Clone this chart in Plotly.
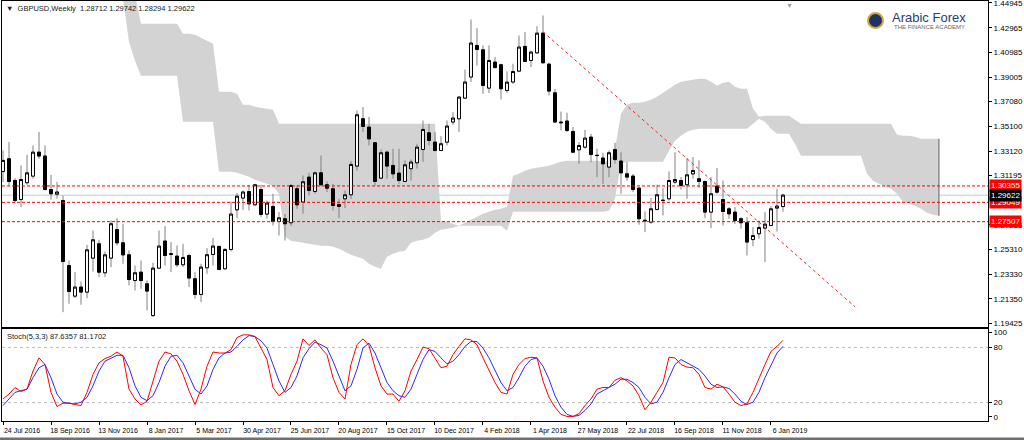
import plotly.graph_objects as go
import pandas as pd

# ---------------- data ----------------
start_week = "2016-07-24"
title_text = "GBPUSD,Weekly  1.28712 1.29742 1.28294 1.29622"

opens = [1.3151, 1.3252, 1.3079, 1.2927, 1.3061, 1.3114, 1.3305, 1.3274, 1.3007, 1.2970,
         1.2919, 1.2401, 1.2157, 1.2229, 1.2189, 1.2460, 1.2574, 1.2343, 1.2460, 1.2688,
         1.2582, 1.2486, 1.2281, 1.2348, 1.2255, 1.2002, 1.2380, 1.2596, 1.2495, 1.2476,
         1.2407, 1.2481, 1.2295, 1.2170, 1.2383, 1.2489, 1.2553, 1.2375, 1.2529, 1.2845,
         1.2939, 1.2991, 1.2885, 1.3007, 1.2811, 1.2872, 1.2752, 1.2774, 1.2742, 1.3013,
         1.2907, 1.3106, 1.2991, 1.3140, 1.3045, 1.3013, 1.2872, 1.2933, 1.2965, 1.3194,
         1.3571, 1.3505, 1.3380, 1.3098, 1.3305, 1.3199, 1.3138, 1.3071, 1.3173, 1.3220,
         1.3326, 1.3459, 1.3385, 1.3318, 1.3385, 1.3545, 1.3571, 1.3736, 1.3904, 1.4156,
         1.4121, 1.3816, 1.4023, 1.4002, 1.3797, 1.3864, 1.3951, 1.4148, 1.4036, 1.4097,
         1.4254, 1.4007, 1.3778, 1.3545, 1.3553, 1.3470, 1.3324, 1.3345, 1.3425, 1.3280,
         1.3258, 1.3186, 1.3326, 1.3234, 1.3132, 1.3114, 1.3018, 1.2762, 1.2747, 1.2848,
         1.2919, 1.2933, 1.3066, 1.3079, 1.3045, 1.3132, 1.3093, 1.3071, 1.2827, 1.3034,
         1.2927, 1.2853, 1.2827, 1.2774, 1.2742, 1.2608, 1.2654, 1.2699, 1.2720, 1.2859,
         1.28712]
highs = [1.3318, 1.3385, 1.3098, 1.3199, 1.3284, 1.3358, 1.3465, 1.3358, 1.3124, 1.3066,
         1.2959, 1.2441, 1.2348, 1.2273, 1.2566, 1.2680, 1.2606, 1.2513, 1.2760, 1.2779,
         1.2734, 1.2521, 1.2401, 1.2441, 1.2282, 1.2423, 1.2680, 1.2715, 1.2588, 1.2561,
         1.2574, 1.2495, 1.2348, 1.2415, 1.2540, 1.2620, 1.2561, 1.2540, 1.2912, 1.2981,
         1.3000, 1.3045, 1.3053, 1.3045, 1.2919, 1.2973, 1.2827, 1.2813, 1.3053, 1.3039,
         1.3119, 1.3140, 1.3151, 1.3278, 1.3071, 1.3053, 1.2933, 1.3000, 1.3234, 1.3637,
         1.3664, 1.3585, 1.3385, 1.3326, 1.3318, 1.3332, 1.3332, 1.3239, 1.3247, 1.3372,
         1.3557, 1.3531, 1.3465, 1.3433, 1.3557, 1.3624, 1.3752, 1.3964, 1.4363, 1.4294,
         1.4156, 1.4156, 1.4063, 1.4010, 1.3948, 1.4010, 1.4235, 1.4262, 1.4116, 1.4310,
         1.4395, 1.4018, 1.3810, 1.3629, 1.3619, 1.3505, 1.3385, 1.3483, 1.3451, 1.3332,
         1.3300, 1.3318, 1.3380, 1.3305, 1.3226, 1.3132, 1.3026, 1.2832, 1.2939, 1.3045,
         1.3018, 1.3151, 1.3305, 1.3106, 1.3258, 1.3266, 1.3239, 1.3079, 1.3106, 1.3178,
         1.3079, 1.2867, 1.2867, 1.2787, 1.2787, 1.2707, 1.2760, 1.2827, 1.2875, 1.3013,
         1.29742]
lows = [1.3066, 1.3034, 1.2907, 1.2867, 1.3045, 1.3093, 1.3252, 1.2999, 1.2927, 1.2933,
        1.2029, 1.2096, 1.2141, 1.2088, 1.2141, 1.2353, 1.2309, 1.2309, 1.2388, 1.2561,
        1.2415, 1.2242, 1.2202, 1.2215, 1.2042, 1.1990, 1.2375, 1.2401, 1.2348, 1.2388,
        1.2388, 1.2229, 1.2136, 1.2109, 1.2335, 1.2401, 1.2367, 1.2369, 1.2513, 1.2779,
        1.2845, 1.2840, 1.2880, 1.2787, 1.2774, 1.2720, 1.2640, 1.2600, 1.2715, 1.2853,
        1.2813, 1.2959, 1.2973, 1.3034, 1.2987, 1.2840, 1.2779, 1.2859, 1.2933, 1.3159,
        1.3465, 1.3358, 1.3039, 1.3093, 1.3093, 1.3093, 1.3053, 1.3066, 1.3079, 1.3173,
        1.3226, 1.3358, 1.3310, 1.3318, 1.3358, 1.3523, 1.3465, 1.3731, 1.3864, 1.3996,
        1.3770, 1.3776, 1.3970, 1.3725, 1.3776, 1.3850, 1.3943, 1.4023, 1.3983, 1.4089,
        1.4010, 1.3757, 1.3539, 1.3478, 1.3465, 1.3300, 1.3212, 1.3332, 1.3226, 1.3106,
        1.3053, 1.3106, 1.3212, 1.2973, 1.3079, 1.2987, 1.2726, 1.2667, 1.2734, 1.2840,
        1.2800, 1.2919, 1.3053, 1.3007, 1.2933, 1.3093, 1.3018, 1.2779, 1.2699, 1.2973,
        1.2720, 1.2774, 1.2734, 1.2694, 1.2481, 1.2556, 1.2614, 1.2428, 1.2715, 1.2672,
        1.28294]
closes = [1.3239, 1.3071, 1.2919, 1.3087, 1.3140, 1.3305, 1.3274, 1.3007, 1.2973, 1.2987,
          1.2433, 1.2194, 1.2229, 1.2189, 1.2526, 1.2606, 1.2348, 1.2486, 1.2734, 1.2582,
          1.2486, 1.2289, 1.2343, 1.2281, 1.2197, 1.2380, 1.2556, 1.2481, 1.2490, 1.2407,
          1.2465, 1.2301, 1.2170, 1.2388, 1.2487, 1.2556, 1.2369, 1.2529, 1.2811, 1.2954,
          1.2987, 1.2893, 1.3045, 1.2808, 1.2899, 1.2752, 1.2781, 1.2734, 1.3039, 1.2885,
          1.3069, 1.3000, 1.3140, 1.3045, 1.3018, 1.2880, 1.2888, 1.2965, 1.3207, 1.3603,
          1.3510, 1.3411, 1.3071, 1.3300, 1.3194, 1.3132, 1.3079, 1.3204, 1.3226, 1.3345,
          1.3486, 1.3398, 1.3318, 1.3372, 1.3513, 1.3577, 1.3744, 1.3864, 1.4175, 1.4124,
          1.3837, 1.4036, 1.3980, 1.3811, 1.3863, 1.3948, 1.4143, 1.4028, 1.4103, 1.4254,
          1.4018, 1.3792, 1.3545, 1.3540, 1.3478, 1.3305, 1.3358, 1.3417, 1.3286, 1.3278,
          1.3212, 1.3300, 1.3246, 1.3140, 1.3106, 1.3007, 1.2774, 1.2758, 1.2853, 1.2965,
          1.2921, 1.3079, 1.3087, 1.3039, 1.3124, 1.3159, 1.3071, 1.2827, 1.2973, 1.2986,
          1.2832, 1.2813, 1.2760, 1.2742, 1.2588, 1.2640, 1.2704, 1.2731, 1.2853, 1.2875,
          1.29622]

# Ichimoku cloud boundaries (first value is bar 20, last is 26 weeks past the last bar)
cloud_offset_weeks = 20
cloud_top = [1.4560, 1.4560, 1.4560, 1.4329, 1.4329, 1.4329, 1.4329, 1.4329, 1.4329, 1.4329,
             1.4249, 1.4249, 1.4241, 1.4217, 1.4193, 1.4169, 1.3786, 1.3786, 1.3786, 1.3770,
             1.3683, 1.3683, 1.3667, 1.3659, 1.3651, 1.3643, 1.3531, 1.3531, 1.3531, 1.3531,
             1.3531, 1.3531, 1.3531, 1.3531, 1.3531, 1.3531, 1.3531, 1.3531, 1.3531, 1.3531,
             1.3531, 1.3531, 1.3531, 1.3531, 1.3531, 1.3531, 1.3531, 1.3531, 1.3531, 1.3531,
             1.3531, 1.3531, 1.3531, 1.2758, 1.2750, 1.2734, 1.2718, 1.2742, 1.2766, 1.2789,
             1.2813, 1.2829, 1.2845, 1.2853, 1.2869, 1.3116, 1.3132, 1.3156, 1.3172, 1.3180,
             1.3188, 1.3196, 1.3212, 1.3228, 1.3236, 1.3236, 1.3236, 1.3236, 1.3236, 1.3236,
             1.3228, 1.3228, 1.3332, 1.3611, 1.3683, 1.3699, 1.3699, 1.3707, 1.3723, 1.3746,
             1.3778, 1.3810, 1.3842, 1.3866, 1.3874, 1.3882, 1.3890, 1.3890, 1.3866, 1.3834,
             1.3858, 1.3866, 1.3826, 1.3810, 1.3810, 1.3651, 1.3587, 1.3595, 1.3595, 1.3595,
             1.3595, 1.3595, 1.3563, 1.3531, 1.3531, 1.3531, 1.3531, 1.3531, 1.3531, 1.3531,
             1.3531, 1.3531, 1.3531, 1.3531, 1.3531, 1.3531, 1.3531, 1.3531, 1.3531, 1.3443,
             1.3435, 1.3435, 1.3427, 1.3412, 1.3412, 1.3412, 1.3412]
cloud_bottom = [1.4528, 1.4185, 1.4034, 1.3914, 1.3914, 1.3914, 1.3914, 1.3914, 1.3914, 1.3914,
                1.3547, 1.3547, 1.3547, 1.3547, 1.3547, 1.3547, 1.3148, 1.3148, 1.3148, 1.3140,
                1.3124, 1.3108, 1.3085, 1.3069, 1.3053, 1.3037, 1.2973, 1.2630, 1.2598, 1.2590,
                1.2582, 1.2574, 1.2566, 1.2558, 1.2558, 1.2550, 1.2534, 1.2510, 1.2486, 1.2471,
                1.2455, 1.2415, 1.2391, 1.2375, 1.2471, 1.2494, 1.2510, 1.2518, 1.2582, 1.2598,
                1.2606, 1.2622, 1.2662, 1.2686, 1.2694, 1.2702, 1.2718, 1.2718, 1.2718, 1.2718,
                1.2718, 1.2718, 1.2718, 1.2718, 1.2678, 1.2829, 1.2829, 1.2829, 1.2829, 1.2829,
                1.2829, 1.2829, 1.2829, 1.2829, 1.2829, 1.2829, 1.2829, 1.2829, 1.2829, 1.2829,
                1.2829, 1.2837, 1.2933, 1.3212, 1.3228, 1.3228, 1.3228, 1.3228, 1.3228, 1.3228,
                1.3228, 1.3316, 1.3396, 1.3435, 1.3467, 1.3483, 1.3491, 1.3491, 1.3491, 1.3491,
                1.3491, 1.3491, 1.3491, 1.3491, 1.3491, 1.3531, 1.3571, 1.3547, 1.3491, 1.3451,
                1.3451, 1.3451, 1.3372, 1.3276, 1.3276, 1.3276, 1.3276, 1.3276, 1.3276, 1.3276,
                1.3276, 1.3276, 1.3276, 1.3276, 1.3132, 1.3077, 1.3053, 1.3029, 1.3013, 1.2973,
                1.2909, 1.2893, 1.2877, 1.2853, 1.2821, 1.2806, 1.2798]

stoch_main = [23.9, 29.3, 36.4, 32.1, 34.6, 54.3, 68.6, 61.4, 31.1, 15.7,
              19.3, 19.3, 17.9, 16.8, 31.1, 50.7, 63.2, 67.9, 70.4, 75.0,
              70.4, 34.6, 23.9, 17.5, 21.4, 43.6, 65.0, 75.0, 72.9, 65.0,
              50.7, 32.9, 17.9, 34.6, 59.6, 75.0, 73.9, 73.9, 77.5, 90.7,
              93.6, 93.6, 91.8, 79.3, 66.8, 36.4, 27.5, 32.9, 50.7, 65.0,
              89.3, 82.1, 88.2, 79.3, 72.1, 47.1, 31.1, 23.9, 61.4, 82.9,
              89.3, 82.1, 57.9, 38.2, 29.3, 29.3, 21.4, 32.9, 54.3, 66.8,
              80.4, 78.6, 68.6, 57.9, 59.6, 72.1, 81.1, 89.3, 88.2, 82.9,
              68.6, 54.3, 41.8, 31.1, 29.3, 50.7, 61.4, 67.9, 69.3, 68.6,
              43.6, 25.7, 15.0, 7.2, 5.0, 5.0, 7.9, 16.8, 23.9, 34.6,
              36.4, 36.4, 44.3, 47.1, 43.6, 38.2, 27.5, 12.2, 20.4, 31.1,
              41.8, 69.3, 68.6, 61.4, 58.6, 57.9, 50.7, 36.4, 34.6, 40.0,
              37.1, 29.3, 20.4, 16.8, 18.6, 31.1, 47.1, 61.4, 75.7, 81.1,
              87.6357]
stoch_signal = [16.8, 23.9, 31.1, 32.9, 34.6, 47.1, 57.9, 61.4, 47.1, 29.3,
                20.4, 19.3, 18.6, 20.4, 25.7, 38.2, 54.3, 65.0, 68.6, 71.4,
                71.4, 57.9, 38.2, 25.7, 22.1, 27.5, 41.8, 59.6, 70.4, 71.4,
                63.2, 48.9, 34.6, 29.3, 38.2, 56.1, 68.6, 73.9, 75.0, 81.1,
                88.2, 92.8, 91.8, 87.1, 79.3, 61.4, 43.6, 31.1, 36.4, 48.9,
                68.6, 78.6, 85.7, 82.9, 79.3, 65.0, 48.9, 32.9, 38.2, 56.1,
                79.3, 84.6, 73.9, 57.9, 41.8, 32.9, 27.5, 25.7, 34.6, 50.7,
                66.8, 77.5, 75.7, 68.6, 62.1, 65.0, 72.1, 81.1, 86.4, 86.4,
                79.3, 68.6, 54.3, 41.8, 32.9, 36.4, 47.1, 59.6, 66.8, 68.6,
                59.6, 45.4, 27.5, 15.0, 7.2, 5.0, 6.1, 11.4, 18.6, 29.3,
                32.9, 36.4, 40.0, 45.4, 45.4, 41.8, 36.4, 25.7, 18.6, 20.4,
                31.1, 47.1, 61.4, 66.8, 63.2, 59.6, 56.1, 48.9, 40.0, 36.4,
                37.1, 35.4, 29.3, 21.4, 17.9, 20.4, 31.1, 47.1, 61.4, 73.9,
                81.1702]
stoch_label = "Stoch(5,3,3) 87.6357 81.1702"

level_lines = [1.30355, 1.29049, 1.27507]
trend_x = ["2018-04-15", "2019-04-14"]
trend_y = [1.4265, 1.2072]

price_ticks = [1.44945, 1.42965, 1.40985, 1.39005, 1.37080, 1.35100, 1.33120,
               1.31195, 1.27255, 1.25310, 1.23330, 1.21350, 1.19425]
date_tick_labels = ["24 Jul 2016", "18 Sep 2016", "13 Nov 2016", "8 Jan 2017", "5 Mar 2017",
                    "30 Apr 2017", "25 Jun 2017", "20 Aug 2017", "15 Oct 2017", "10 Dec 2017",
                    "4 Feb 2018", "1 Apr 2018", "27 May 2018", "22 Jul 2018", "16 Sep 2018",
                    "11 Nov 2018", "6 Jan 2019"]
stoch_tick_labels = ["100", "80", "20", "0"]
stoch_tick_pos = [96.5, 80, 20, 4.5]

# ---------------- derived ----------------
start = pd.Timestamp(start_week)
weeks = pd.date_range(start, periods=len(opens), freq="7D")
cloud_dates = pd.date_range(start + pd.Timedelta(weeks=cloud_offset_weeks),
                            periods=len(cloud_top), freq="7D")
body_hi = [max(o, c) for o, c in zip(opens, closes)]
body_lo = [min(o, c) for o, c in zip(opens, closes)]
date_tick_vals = [pd.to_datetime(s, format="%d %b %Y") for s in date_tick_labels]

FONT = "Liberation Sans, Arial, sans-serif"
W, H = 1024, 440
ML, MR, MT, MB = 2, 36, 1, 19
PW, PH = W - ML - MR, H - MT - MB


def px_x(px):
    return (px - ML) / PW


def px_y(py):
    return (H - MB - py) / PH


main_dom = [px_y(327), 1.0]
stoch_dom = [0.0, px_y(329)]
y_main_range = [1.19107, 1.45104]
x_range = [start - pd.Timedelta(days=7 / 6), start + pd.Timedelta(days=7 * 164.17)]

# cloud polygon in data coordinates (drawn below the candles)
cd = [d.strftime("%Y-%m-%d") for d in cloud_dates]
pts = [(d, v) for d, v in zip(cd, cloud_bottom)] + [(d, v) for d, v in zip(cd[::-1], cloud_top[::-1])]
cloud_path = "M " + " L ".join(f"{d},{v}" for d, v in pts) + " Z"

fig = go.Figure()

fig.add_trace(go.Scatter(x=[cloud_dates[-1], cloud_dates[-1]],
                         y=[cloud_top[-1], cloud_bottom[-1]], mode="lines",
                         line=dict(width=1, color="#606060"), hoverinfo="skip",
                         showlegend=False, xaxis="x", yaxis="y"))

# wicks
fig.add_trace(go.Candlestick(x=weeks, open=opens, high=highs, low=lows, close=closes,
                             increasing=dict(line=dict(color="#808080", width=1), fillcolor="#808080"),
                             decreasing=dict(line=dict(color="#808080", width=1), fillcolor="#808080"),
                             hoverinfo="skip", showlegend=False, xaxis="x", yaxis="y"))
# bodies
fig.add_trace(go.Candlestick(x=weeks, open=opens, high=body_hi, low=body_lo, close=closes,
                             increasing=dict(line=dict(color="#000000", width=1), fillcolor="#ffffff"),
                             decreasing=dict(line=dict(color="#000000", width=1), fillcolor="#000000"),
                             hoverinfo="skip", showlegend=False, xaxis="x", yaxis="y"))

# trend line
fig.add_trace(go.Scatter(x=trend_x, y=trend_y, mode="lines",
                         line=dict(width=1, color="#ff2020", dash="dot"),
                         hoverinfo="skip", showlegend=False, xaxis="x", yaxis="y"))

# stochastic
fig.add_trace(go.Scatter(x=weeks, y=stoch_signal, mode="lines",
                         line=dict(width=1, color="#2a2aff"), hoverinfo="skip",
                         showlegend=False, xaxis="x2", yaxis="y2"))
fig.add_trace(go.Scatter(x=weeks, y=stoch_main, mode="lines",
                         line=dict(width=1, color="#ff0000"), hoverinfo="skip",
                         showlegend=False, xaxis="x2", yaxis="y2"))

shapes = [dict(type="path", xref="x", yref="y", path=cloud_path, fillcolor="#d3d3d3",
               line=dict(width=0), layer="below")]
for lv in [80, 20]:
    shapes.append(dict(type="line", xref="x2 domain", yref="y2", x0=0, x1=1, y0=lv, y1=lv,
                       line=dict(color="#b8b8b8", width=1, dash="3px,3px"), layer="below"))
shapes.append(dict(type="line", xref="x domain", yref="y", x0=0, x1=1,
                   y0=closes[-1], y1=closes[-1], line=dict(color="#c8c8c8", width=1), layer="below"))
for lv in level_lines:
    shapes.append(dict(type="line", xref="x domain", yref="y", x0=0, x1=1, y0=lv, y1=lv,
                       line=dict(color="#ff0000", width=1, dash="3px,2px")))
# logo circle
shapes.append(dict(type="circle", xref="paper", yref="paper",
                   x0=px_x(868), x1=px_x(883), y0=px_y(28), y1=px_y(13),
                   fillcolor="#1e3263", line=dict(color="#d0a640", width=2)))
# bottom frame strip
shapes.append(dict(type="rect", xref="paper", yref="paper", x0=px_x(0), x1=px_x(1024),
                   y0=px_y(440), y1=px_y(437.5), fillcolor="#707070", line=dict(width=0)))

annotations = [
    dict(text="▼  " + title_text, xref="paper", yref="paper", x=px_x(4), y=px_y(2),
         xanchor="left", yanchor="top", showarrow=False,
         font=dict(family=FONT, size=7.5, color="#202020")),
    dict(text=stoch_label, xref="paper", yref="paper", x=px_x(5), y=px_y(330),
         xanchor="left", yanchor="top", showarrow=False,
         font=dict(family=FONT, size=7.5, color="#202020")),
    dict(text="Arabic Forex", xref="paper", yref="paper", x=px_x(890), y=px_y(18),
         xanchor="left", yanchor="middle", showarrow=False,
         font=dict(family=FONT, size=13, color="#2a3c6c")),
    dict(text="THE FINANCE ACADEMY", xref="paper", yref="paper", x=px_x(892), y=px_y(26.5),
         xanchor="left", yanchor="middle", showarrow=False,
         font=dict(family=FONT, size=6, color="#666666")),
    dict(text="▼", xref="paper", yref="paper", x=px_x(789), y=px_y(0),
         xanchor="center", yanchor="top", showarrow=False,
         font=dict(family=FONT, size=7, color="#a0a0a0")),
]
for lv in level_lines:
    annotations.append(dict(text=f"{lv:.5f}", xref="paper", yref="y", x=1, y=lv,
                            xanchor="left", yanchor="middle", xshift=1, showarrow=False,
                            bgcolor="#ff0000", borderpad=1,
                            font=dict(family=FONT, size=8, color="#ffffff")))
annotations.append(dict(text=f"{closes[-1]:.5f}", xref="paper", yref="y", x=1, y=closes[-1],
                        xanchor="left", yanchor="middle", xshift=1, showarrow=False,
                        bgcolor="#000000", borderpad=1,
                        font=dict(family=FONT, size=8, color="#ffffff")))

axis_common = dict(showline=True, linecolor="#000000", linewidth=1, mirror=True,
                   showgrid=False, zeroline=False, automargin=False)

fig.update_layout(
    width=W, height=H,
    margin=dict(l=ML, r=MR, t=MT, b=MB),
    paper_bgcolor="#ffffff", plot_bgcolor="#ffffff",
    showlegend=False, boxgap=0.3, hovermode=False,
    font=dict(family=FONT, size=8, color="#000000"),
    xaxis=dict(axis_common, type="date", domain=[0, 1], anchor="y", range=x_range,
               showticklabels=False, ticks="", rangeslider=dict(visible=False)),
    yaxis=dict(axis_common, domain=main_dom, anchor="x", side="right", range=y_main_range,
               tickvals=price_ticks, ticktext=[f"{v:.5f}" for v in price_ticks],
               ticks="outside", ticklen=3, tickcolor="#000000", ticklabeloverflow="allow",
               tickfont=dict(family=FONT, size=8, color="#000000")),
    xaxis2=dict(axis_common, type="date", domain=[0, 1], anchor="y2", range=x_range,
                tickvals=date_tick_vals, ticktext=date_tick_labels, ticks="outside",
                ticklen=3, tickcolor="#000000", ticklabelshift=19,
                tickfont=dict(family=FONT, size=7, color="#000000")),
    yaxis2=dict(axis_common, domain=stoch_dom, anchor="x2", side="right", range=[0, 100],
                tickvals=stoch_tick_pos, ticktext=stoch_tick_labels, ticks="outside",
                ticklen=3, tickcolor="#000000",
                tickfont=dict(family=FONT, size=8, color="#000000")),
    shapes=shapes,
    annotations=annotations,
)

fig.write_html("out.html")
